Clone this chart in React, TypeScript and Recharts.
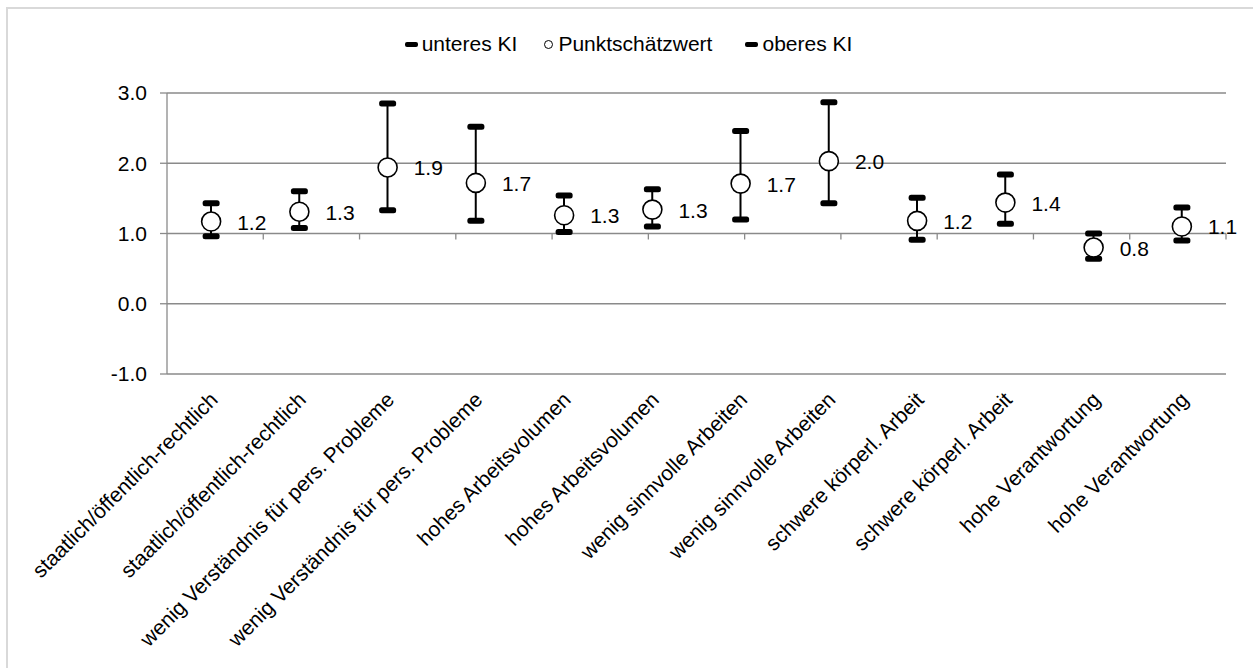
import {
  Bar,
  CartesianGrid,
  ComposedChart,
  LabelList,
  Line,
  ReferenceLine,
  XAxis,
  YAxis,
} from "recharts";

const categories = [
  "staatlich/öffentlich-rechtlich",
  "staatlich/öffentlich-rechtlich",
  "wenig Verständnis für pers. Probleme",
  "wenig Verständnis für pers. Probleme",
  "hohes Arbeitsvolumen",
  "hohes Arbeitsvolumen",
  "wenig sinnvolle Arbeiten",
  "wenig sinnvolle Arbeiten",
  "schwere körperl. Arbeit",
  "schwere körperl. Arbeit",
  "hohe Verantwortung",
  "hohe Verantwortung",
];

const lowerCI = [0.96, 1.08, 1.33, 1.18, 1.02, 1.1, 1.2, 1.43, 0.91, 1.14, 0.64, 0.9];
const pointEstimate = [1.17, 1.31, 1.94, 1.72, 1.26, 1.34, 1.71, 2.03, 1.18, 1.44, 0.8, 1.1];
const upperCI = [1.43, 1.6, 2.85, 2.52, 1.54, 1.63, 2.46, 2.87, 1.51, 1.84, 1.0, 1.37];

const seriesNames = ["unteres KI", "Punktschätzwert", "oberes KI"];
const yTicks = [-1, 0, 1, 2, 3];
const boundaries = [1, 2, 3, 4, 5, 6, 7, 8, 9, 10, 11, 12];

const data = categories.map((name, i) => ({
  i,
  name,
  low: lowerCI[i],
  point: pointEstimate[i],
  high: upperCI[i],
}));

const FONT = "'Liberation Sans', Arial, sans-serif";
const GRID = "#8a8a8a";

function Cap(props: any) {
  const { cx, cy } = props;
  if (cx == null || cy == null) return null;
  return <rect x={cx - 8.5} y={cy - 3} width={17} height={6} rx={2.5} fill="#000" />;
}

function Circle(props: any) {
  const { cx, cy } = props;
  if (cx == null || cy == null) return null;
  return <circle cx={cx} cy={cy} r={9.5} fill="#fff" stroke="#000" strokeWidth={1.6} />;
}

function CategoryTick(props: any) {
  const { x, y, payload } = props;
  return (
    <g transform={`translate(${x + 8},${y + 19})`}>
      <text
        textAnchor="end"
        transform="rotate(-45)"
        fontSize={21}
        fontFamily={FONT}
        fill="#000"
      >
        {categories[payload.value]}
      </text>
    </g>
  );
}

function ValueLabel(props: any) {
  const { x, y, value } = props;
  return (
    <text x={x + 26} y={y + 8} fontSize={21} fontFamily={FONT} fill="#000">
      {Number(value).toFixed(1)}
    </text>
  );
}

function ChartLegend() {
  const item = { display: "flex", alignItems: "center" } as const;
  const dash = (
    <span
      style={{ width: 13, height: 5, background: "#000", borderRadius: 2, marginRight: 4 }}
    />
  );
  return (
    <div
      style={{
        position: "absolute",
        left: 0,
        top: 32,
        width: 1253,
        display: "flex",
        justifyContent: "center",
        fontFamily: FONT,
        fontSize: 21,
        lineHeight: "24px",
        color: "#000",
        paddingLeft: 4,
        boxSizing: "border-box",
      }}
    >
      <div style={{ ...item, marginRight: 27 }}>
        {dash}
        <span>{seriesNames[0]}</span>
      </div>
      <div style={{ ...item, marginRight: 33 }}>
        <span
          style={{
            width: 7,
            height: 7,
            border: "1.6px solid #000",
            borderRadius: "50%",
            marginRight: 5,
          }}
        />
        <span>{seriesNames[1]}</span>
      </div>
      <div style={item}>
        {dash}
        <span>{seriesNames[2]}</span>
      </div>
    </div>
  );
}

export default function App() {
  return (
    <div
      style={{
        position: "fixed",
        left: 0,
        top: 0,
        width: 1253,
        height: 668,
        background: "#fff",
        overflow: "hidden",
      }}
    >
      <div
        style={{
          position: "absolute",
          left: 6,
          top: 7,
          width: 1300,
          height: 700,
          borderLeft: "2px solid #d9d9d9",
          borderTop: "2px solid #d9d9d9",
        }}
      />
      <ChartLegend />
      <ComposedChart
        width={1253}
        height={668}
        data={data}
        margin={{ top: 93, right: 27, bottom: 14, left: 107 }}
        style={{ position: "absolute", left: 0, top: 0 }}
      >
        <CartesianGrid vertical={false} stroke={GRID} strokeWidth={1.3} />
        <XAxis
          dataKey="i"
          type="category"
          axisLine={false}
          tickLine={false}
          interval={0}
          height={280}
          tick={<CategoryTick />}
        />
        <XAxis xAxisId="b" type="number" domain={[0, 12]} hide />
        <YAxis
          domain={[-1, 3]}
          ticks={yTicks}
          width={60}
          interval={0}
          tickFormatter={(v: number) => v.toFixed(1)}
          axisLine={{ stroke: GRID, strokeWidth: 1.3 }}
          tickLine={{ stroke: GRID, strokeWidth: 1.3 }}
          tickSize={7}
          tickMargin={13}
          tick={{ fontSize: 21, fontFamily: FONT, fill: "#000" }}
        />
        {boundaries.map((b) => (
          <ReferenceLine
            key={b}
            xAxisId="b"
            segment={[
              { x: b, y: 1 },
              { x: b, y: 0.915 },
            ]}
            stroke={GRID}
            strokeWidth={1.3}
          />
        ))}
        <Bar
          dataKey={(d: any) => [d.low, d.high]}
          barSize={2}
          fill="#000"
          isAnimationActive={false}
          legendType="none"
        />
        <Line
          dataKey="low"
          name={seriesNames[0]}
          stroke="none"
          dot={<Cap />}
          activeDot={false}
          isAnimationActive={false}
        />
        <Line
          dataKey="high"
          name={seriesNames[2]}
          stroke="none"
          dot={<Cap />}
          activeDot={false}
          isAnimationActive={false}
        />
        <Line
          dataKey="point"
          name={seriesNames[1]}
          stroke="none"
          dot={<Circle />}
          activeDot={false}
          isAnimationActive={false}
        >
          <LabelList dataKey="point" content={<ValueLabel />} />
        </Line>
      </ComposedChart>
    </div>
  );
}
